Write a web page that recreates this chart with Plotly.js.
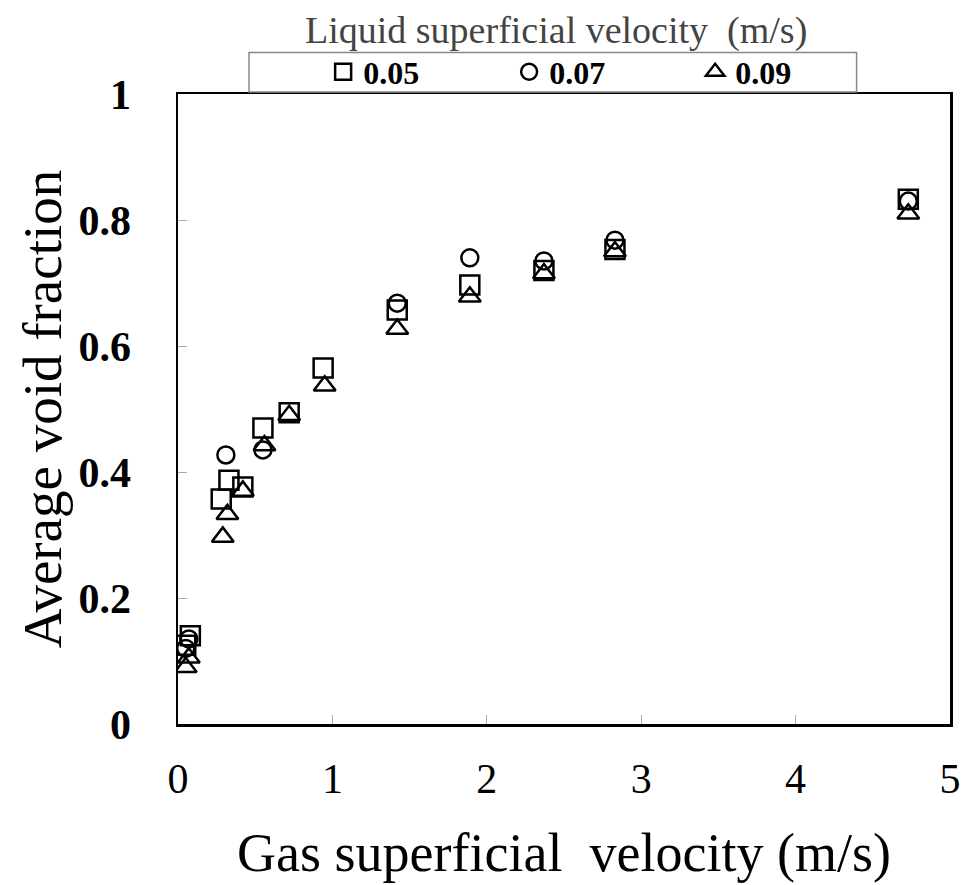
<!DOCTYPE html>
<html>
<head>
<meta charset="utf-8">
<script src="https://cdn.plot.ly/plotly-3.0.1.min.js"></script>
<style>html,body{margin:0;padding:0;background:#fff;}#chart{width:966px;height:885px;}</style>
</head>
<body>
<div id="chart"></div>
<script>
// Gas superficial velocity (m/s) and average void fraction per liquid superficial velocity
const seriesNames = ["0.05", "0.07", "0.09"];
const x005 = [0.05, 0.08, 0.28, 0.33, 0.42, 0.55, 0.72, 0.94, 1.42, 1.89, 2.37, 2.83, 4.73];
const y005 = [0.125, 0.14, 0.357, 0.387, 0.376, 0.47, 0.494, 0.565, 0.657, 0.697, 0.72, 0.753, 0.833];
const x007 = [0.05, 0.07, 0.31, 0.55, 1.42, 1.89, 2.37, 2.83, 4.73];
const y007 = [0.12, 0.135, 0.427, 0.435, 0.668, 0.74, 0.735, 0.768, 0.83];
const x009 = [0.05, 0.07, 0.29, 0.32, 0.42, 0.56, 0.72, 0.95, 1.42, 1.89, 2.37, 2.83, 4.73];
const y009 = [0.09, 0.105, 0.297, 0.333, 0.37, 0.442, 0.49, 0.537, 0.627, 0.678, 0.715, 0.75, 0.81];
const xTicks = [0, 1, 2, 3, 4, 5];
const yTicks = [0, 0.2, 0.4, 0.6, 0.8, 1];
const yTickText = ["0", "0.2", "0.4", "0.6", "0.8", "1"];

const serif = "Liberation Serif, Times New Roman, serif";
function tr(x, y, name, sym, size) {
  return {x: x, y: y, name: name, type: "scatter", mode: "markers",
    marker: {symbol: sym, size: size, color: "#000", line: {width: 2.5, color: "#000"}}};
}
const data = [
  tr(x009, y009, seriesNames[2], "triangle-up-open", 19),
  tr(x007, y007, seriesNames[1], "circle-open", 17),
  tr(x005, y005, seriesNames[0], "square-open", 19)
];
// legend order 0.05, 0.07, 0.09
data[0].legendrank = 3; data[1].legendrank = 2; data[2].legendrank = 1;

const layout = {
  width: 966, height: 885,
  margin: {l: 178, r: 16, t: 94, b: 161},
  paper_bgcolor: "#fff", plot_bgcolor: "#fff",
  font: {family: serif, color: "#000"},
  showlegend: true,
  legend: {orientation: "h", x: 0.188, xanchor: "left", y: 1.035, yanchor: "middle",
    bgcolor: "rgba(0,0,0,0)", borderwidth: 0, itemsizing: "trace",
    entrywidth: 141, entrywidthmode: "pixels", tracegroupgap: 0,
    font: {family: serif, size: 32, weight: "bold", color: "#000"}, traceorder: "normal"},
  xaxis: {range: [0, 5], tickvals: xTicks, ticktext: xTicks.map(String),
    showgrid: false, zeroline: false, showline: true, mirror: true, linewidth: 2.5, linecolor: "#000",
    ticks: "inside", ticklen: 9, tickwidth: 1, tickcolor: "#aaa", ticklabelstandoff: 16,
    tickfont: {family: serif, size: 42, color: "#000"},
    title: {text: "Gas superficial  velocity (m/s)", font: {family: serif, size: 54, color: "#000"}, standoff: 33}},
  yaxis: {range: [0, 1], tickvals: yTicks, ticktext: yTickText,
    showgrid: false, zeroline: false, showline: true, mirror: true, linewidth: 2.5, linecolor: "#000",
    ticks: "inside", ticklen: 9, tickwidth: 1, tickcolor: "#aaa", ticklabelstandoff: 36,
    tickfont: {family: serif, size: 42, weight: "bold", color: "#000"},
    title: {text: "Average void fraction", font: {family: serif, size: 55, color: "#000"}, standoff: 0}},
  shapes: [{type: "rect", xref: "paper", yref: "paper", x0: 0.092, x1: 0.879, y0: 1.003, y1: 1.066,
    line: {color: "#888", width: 1.5}, fillcolor: "rgba(0,0,0,0)"}],
  annotations: [{xref: "paper", yref: "paper", x: 0.49, y: 1.063, xanchor: "center", yanchor: "bottom",
    text: "Liquid superficial velocity  (m/s)", showarrow: false,
    font: {family: serif, size: 38, color: "#444"}}]
};
Plotly.newPlot("chart", data, layout, {displayModeBar: false, staticPlot: true});
</script>
</body>
</html>
